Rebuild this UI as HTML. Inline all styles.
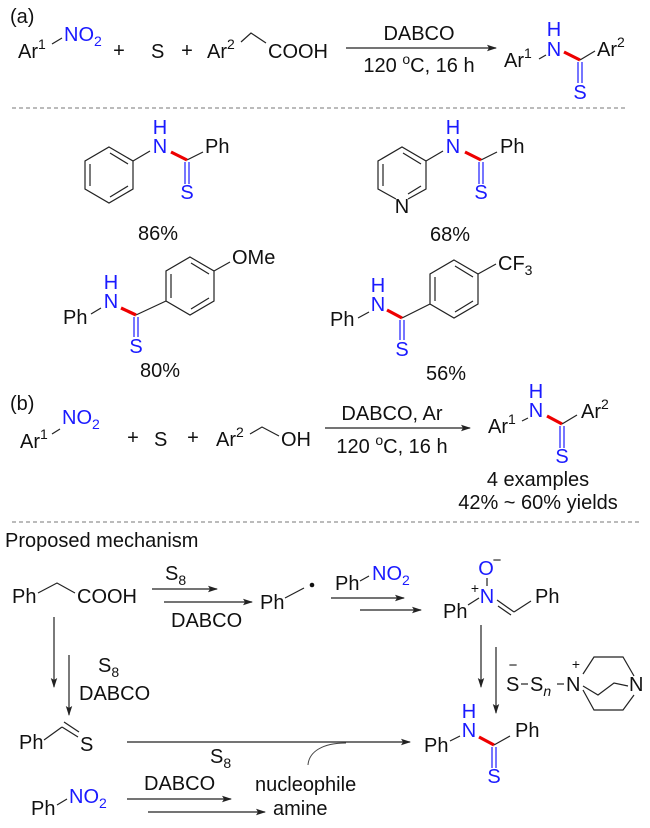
<!DOCTYPE html>
<html><head><meta charset="utf-8"><style>
html,body{margin:0;padding:0;background:#fff;}
svg{display:block;font-family:"Liberation Sans",Arial,sans-serif;}
</style></head><body>
<svg width="650" height="828" viewBox="0 0 650 828" xmlns="http://www.w3.org/2000/svg">
<defs>
<marker id="ah" markerWidth="10" markerHeight="8" refX="9" refY="4" orient="auto" markerUnits="userSpaceOnUse">
<path d="M0,0.8 L10,4 L0,7.2 L2,4 Z" fill="#222"/>
</marker>
</defs>
<g font-size="20" fill="#111">
<!-- (a) -->
<text x="10" y="23">(a)</text>
<text x="18" y="58">Ar<tspan font-size="14" dy="-9">1</tspan></text>
<line x1="52" y1="44" x2="62" y2="38" stroke="#222" stroke-width="1.2"/>
<text x="64" y="41" fill="#1a1aff">NO<tspan font-size="14" dy="5">2</tspan></text>
<text x="119" y="57" text-anchor="middle">+</text>
<text x="151" y="58">S</text>
<text x="187" y="57" text-anchor="middle">+</text>
<text x="207" y="58">Ar<tspan font-size="14" dy="-9">2</tspan></text>
<polyline points="241,42 251,33 266,43" fill="none" stroke="#222" stroke-width="1.2"/>
<text x="268" y="58">COOH</text>
<line x1="346" y1="48" x2="496" y2="48" stroke="#222" stroke-width="1.2" marker-end="url(#ah)"/>
<text x="419" y="40" text-anchor="middle">DABCO</text>
<text x="419" y="72" text-anchor="middle">120 <tspan font-size="14" dy="-8">o</tspan><tspan dy="8">C, 16 h</tspan></text>
<text x="504" y="67">Ar<tspan font-size="14" dy="-9">1</tspan></text>
<line x1="539" y1="59" x2="546" y2="55" stroke="#222" stroke-width="1.2"/>
<text x="554" y="56" text-anchor="middle" fill="#1a1aff">N</text>
<text x="554" y="36" text-anchor="middle" fill="#1a1aff">H</text>
<line x1="564" y1="52" x2="580" y2="60" stroke="#e00" stroke-width="3.2"/>
<line x1="580" y1="60" x2="595" y2="51" stroke="#222" stroke-width="1.2"/>
<text x="597" y="56">Ar<tspan font-size="14" dy="-9">2</tspan></text>
<line x1="578" y1="62" x2="578" y2="83" stroke="#1a1aff" stroke-width="1.2"/>
<line x1="582" y1="62" x2="582" y2="83" stroke="#1a1aff" stroke-width="1.2"/>
<text x="580" y="99" text-anchor="middle" fill="#1a1aff">S</text>
<line x1="12" y1="108" x2="627" y2="108" stroke="#777" stroke-width="1" stroke-dasharray="4,3"/>

<!-- Structure 1 -->
<g stroke="#222" stroke-width="1.2" fill="none">
<polygon points="109,147 133,161 133,189 109,203 85,189 85,161"/>
<line x1="90" y1="164" x2="90" y2="186"/>
<line x1="110" y1="153" x2="128" y2="164"/>
<line x1="128" y1="186" x2="110" y2="197"/>
<line x1="133" y1="161" x2="150" y2="151"/>
<line x1="187" y1="160" x2="203" y2="152"/>
</g>
<text x="160" y="153" text-anchor="middle" fill="#1a1aff">N</text>
<text x="160" y="134" text-anchor="middle" fill="#1a1aff">H</text>
<line x1="171" y1="152" x2="187" y2="160" stroke="#e00" stroke-width="3.2"/>
<text x="205" y="153">Ph</text>
<line x1="185" y1="162" x2="185" y2="184" stroke="#1a1aff" stroke-width="1.2"/>
<line x1="189" y1="162" x2="189" y2="184" stroke="#1a1aff" stroke-width="1.2"/>
<text x="187" y="199" text-anchor="middle" fill="#1a1aff">S</text>
<text x="158" y="240" text-anchor="middle">86%</text>

<!-- Structure 2 pyridine -->
<g stroke="#222" stroke-width="1.2" fill="none">
<polyline points="396,199 378,189 378,161 402,147 426,161 426,189 408,199"/>
<line x1="383" y1="164" x2="383" y2="186"/>
<line x1="403" y1="153" x2="421" y2="164"/>
<line x1="421" y1="186" x2="408" y2="194"/>
<line x1="426" y1="161" x2="443" y2="151"/>
<line x1="481" y1="160" x2="497" y2="152"/>
</g>
<text x="402" y="213" text-anchor="middle">N</text>
<text x="453" y="153" text-anchor="middle" fill="#1a1aff">N</text>
<text x="453" y="134" text-anchor="middle" fill="#1a1aff">H</text>
<line x1="465" y1="152" x2="481" y2="160" stroke="#e00" stroke-width="3.2"/>
<text x="500" y="153">Ph</text>
<line x1="479" y1="162" x2="479" y2="184" stroke="#1a1aff" stroke-width="1.2"/>
<line x1="483" y1="162" x2="483" y2="184" stroke="#1a1aff" stroke-width="1.2"/>
<text x="481" y="199" text-anchor="middle" fill="#1a1aff">S</text>
<text x="450" y="241" text-anchor="middle">68%</text>

<!-- Structure 3 OMe -->
<g stroke="#222" stroke-width="1.2" fill="none">
<polygon points="190,257 214,271 214,301 190,315 166,301 166,271"/>
<line x1="171" y1="274" x2="171" y2="298"/>
<line x1="191" y1="263" x2="209" y2="274"/>
<line x1="209" y1="298" x2="191" y2="309"/>
<line x1="214" y1="271" x2="230" y2="262"/>
<line x1="136" y1="315" x2="166" y2="301"/>
<line x1="91" y1="314" x2="101" y2="308"/>
</g>
<text x="232" y="264">OMe</text>
<text x="63" y="324">Ph</text>
<text x="111" y="308" text-anchor="middle" fill="#1a1aff">N</text>
<text x="111" y="289" text-anchor="middle" fill="#1a1aff">H</text>
<line x1="121" y1="308" x2="136" y2="315" stroke="#e00" stroke-width="3.2"/>
<line x1="134" y1="317" x2="134" y2="337" stroke="#1a1aff" stroke-width="1.2"/>
<line x1="138" y1="317" x2="138" y2="337" stroke="#1a1aff" stroke-width="1.2"/>
<text x="136" y="353" text-anchor="middle" fill="#1a1aff">S</text>
<text x="160" y="377" text-anchor="middle">80%</text>

<!-- Structure 4 CF3 -->
<g stroke="#222" stroke-width="1.2" fill="none">
<polygon points="454,260 478,274 478,304 454,318 430,304 430,274"/>
<line x1="435" y1="277" x2="435" y2="301"/>
<line x1="455" y1="266" x2="473" y2="277"/>
<line x1="473" y1="301" x2="455" y2="312"/>
<line x1="478" y1="274" x2="496" y2="264"/>
<line x1="402" y1="318" x2="430" y2="304"/>
<line x1="358" y1="318" x2="369" y2="312"/>
</g>
<text x="498" y="270">CF<tspan font-size="14" dy="5">3</tspan></text>
<text x="330" y="326">Ph</text>
<text x="378" y="311" text-anchor="middle" fill="#1a1aff">N</text>
<text x="378" y="292" text-anchor="middle" fill="#1a1aff">H</text>
<line x1="387" y1="310" x2="402" y2="318" stroke="#e00" stroke-width="3.2"/>
<line x1="400" y1="320" x2="400" y2="340" stroke="#1a1aff" stroke-width="1.2"/>
<line x1="404" y1="320" x2="404" y2="340" stroke="#1a1aff" stroke-width="1.2"/>
<text x="402" y="356" text-anchor="middle" fill="#1a1aff">S</text>
<text x="446" y="380" text-anchor="middle">56%</text>

<!-- (b) -->
<text x="10" y="410">(b)</text>
<text x="20" y="448">Ar<tspan font-size="14" dy="-9">1</tspan></text>
<line x1="52" y1="434" x2="60" y2="429" stroke="#222" stroke-width="1.2"/>
<text x="62" y="424" fill="#1a1aff">NO<tspan font-size="14" dy="5">2</tspan></text>
<text x="133" y="444" text-anchor="middle">+</text>
<text x="154" y="446">S</text>
<text x="193" y="444" text-anchor="middle">+</text>
<text x="216" y="446">Ar<tspan font-size="14" dy="-9">2</tspan></text>
<polyline points="250,434 262,427 279,436" fill="none" stroke="#222" stroke-width="1.2"/>
<text x="281" y="446">OH</text>
<line x1="325" y1="428" x2="470" y2="428" stroke="#222" stroke-width="1.2" marker-end="url(#ah)"/>
<text x="392" y="420" text-anchor="middle">DABCO, Ar</text>
<text x="392" y="453" text-anchor="middle">120 <tspan font-size="14" dy="-8">o</tspan><tspan dy="8">C, 16 h</tspan></text>
<text x="488" y="433">Ar<tspan font-size="14" dy="-9">1</tspan></text>
<line x1="522" y1="421" x2="528" y2="418" stroke="#222" stroke-width="1.2"/>
<text x="536" y="417" text-anchor="middle" fill="#1a1aff">N</text>
<text x="536" y="398" text-anchor="middle" fill="#1a1aff">H</text>
<line x1="547" y1="416" x2="562" y2="424" stroke="#e00" stroke-width="3.2"/>
<line x1="562" y1="424" x2="577" y2="415" stroke="#222" stroke-width="1.2"/>
<text x="581" y="418">Ar<tspan font-size="14" dy="-9">2</tspan></text>
<line x1="560" y1="426" x2="560" y2="448" stroke="#1a1aff" stroke-width="1.2"/>
<line x1="564" y1="426" x2="564" y2="448" stroke="#1a1aff" stroke-width="1.2"/>
<text x="562" y="463" text-anchor="middle" fill="#1a1aff">S</text>
<text x="538" y="486" text-anchor="middle">4 examples</text>
<text x="538" y="509" text-anchor="middle">42% ~ 60% yields</text>
<line x1="12" y1="522" x2="640" y2="522" stroke="#777" stroke-width="1" stroke-dasharray="4,3"/>

<!-- Mechanism -->
<text x="5" y="547">Proposed mechanism</text>
<text x="12" y="603">Ph</text>
<polyline points="38,593 57,583 75,593" fill="none" stroke="#222" stroke-width="1.2"/>
<text x="77" y="603">COOH</text>
<g stroke="#222" stroke-width="1.2" marker-end="url(#ah)">
<line x1="152" y1="589" x2="217" y2="589"/>
<line x1="164" y1="602" x2="252" y2="602"/>
<line x1="331" y1="598" x2="404" y2="598"/>
<line x1="360" y1="610" x2="421" y2="610"/>
<line x1="481" y1="625" x2="481" y2="687"/>
<line x1="496" y1="647" x2="496" y2="713"/>
<line x1="54" y1="617" x2="54" y2="687"/>
<line x1="69" y1="655" x2="69" y2="715"/>
<line x1="127" y1="742" x2="410" y2="742"/>
<line x1="127" y1="799" x2="231" y2="799"/>
<line x1="148" y1="812" x2="265" y2="812"/>
</g>
<text x="165" y="580">S<tspan font-size="14" dy="5">8</tspan></text>
<text x="171" y="627">DABCO</text>
<text x="260" y="609">Ph</text>
<line x1="285" y1="598" x2="304" y2="588" stroke="#222" stroke-width="1.2"/>
<circle cx="312" cy="585" r="2.3" fill="#111"/>
<text x="335" y="590">Ph</text>
<line x1="360" y1="581" x2="369" y2="576" stroke="#222" stroke-width="1.2"/>
<text x="372" y="580" fill="#1a1aff">NO<tspan font-size="14" dy="5">2</tspan></text>
<!-- nitrone -->
<text x="443" y="618">Ph</text>
<line x1="468" y1="605" x2="479" y2="598" stroke="#222" stroke-width="1.2"/>
<text x="487" y="603" text-anchor="middle" fill="#1a1aff">N</text>
<text x="475" y="593" text-anchor="middle" font-size="14">+</text>
<text x="486" y="575" text-anchor="middle" fill="#1a1aff">O</text>
<text x="497" y="565" text-anchor="middle" font-size="15">−</text>
<line x1="487" y1="578" x2="487" y2="586" stroke="#222" stroke-width="1.2"/>
<line x1="497" y1="600" x2="514" y2="612" stroke="#222" stroke-width="1.2"/>
<line x1="498" y1="606" x2="511" y2="615" stroke="#222" stroke-width="1.2"/>
<line x1="514" y1="612" x2="531" y2="601" stroke="#222" stroke-width="1.2"/>
<text x="535" y="603">Ph</text>
<!-- polysulfide DABCO -->
<text x="513" y="670" text-anchor="middle" font-size="15">−</text>
<text x="506" y="691">S</text>
<line x1="521" y1="684" x2="528" y2="684" stroke="#222" stroke-width="1.2"/>
<text x="530" y="691">S<tspan font-size="14" font-style="italic" dy="5">n</tspan></text>
<line x1="557" y1="684" x2="564" y2="684" stroke="#222" stroke-width="1.2"/>
<text x="566" y="691">N</text>
<text x="576" y="669" text-anchor="middle" font-size="14">+</text>
<g stroke="#222" stroke-width="1.2" fill="none">
<polyline points="583,674 594,657 623,657 634,676"/>
<polyline points="583,690 594,710 623,710 634,695"/>
<polyline points="583,686 598,695 614,683 628,686"/>
</g>
<text x="629" y="691">N</text>
<text x="98" y="672">S<tspan font-size="14" dy="5">8</tspan></text>
<text x="79" y="700">DABCO</text>
<text x="19" y="749">Ph</text>
<line x1="44" y1="740" x2="62" y2="727" stroke="#222" stroke-width="1.2"/>
<line x1="62" y1="727" x2="78" y2="737" stroke="#222" stroke-width="1.2"/>
<line x1="64" y1="722" x2="79" y2="732" stroke="#222" stroke-width="1.2"/>
<text x="80" y="751">S</text>
<text x="210" y="763">S<tspan font-size="14" dy="5">8</tspan></text>
<path d="M308,765 C309,752 322,743 346,743" fill="none" stroke="#444" stroke-width="1"/>
<text x="31" y="815">Ph</text>
<line x1="57" y1="805" x2="67" y2="799" stroke="#222" stroke-width="1.2"/>
<text x="69" y="803" fill="#1a1aff">NO<tspan font-size="14" dy="5">2</tspan></text>
<text x="144" y="790">DABCO</text>
<text x="255" y="791">nucleophile</text>
<text x="273" y="815">amine</text>
<!-- final product -->
<text x="424" y="752">Ph</text>
<line x1="450" y1="741" x2="460" y2="736" stroke="#222" stroke-width="1.2"/>
<text x="469" y="737" text-anchor="middle" fill="#1a1aff">N</text>
<text x="469" y="718" text-anchor="middle" fill="#1a1aff">H</text>
<line x1="479" y1="737" x2="494" y2="745" stroke="#e00" stroke-width="3.2"/>
<line x1="494" y1="745" x2="510" y2="736" stroke="#222" stroke-width="1.2"/>
<text x="515" y="737">Ph</text>
<line x1="492" y1="747" x2="492" y2="768" stroke="#1a1aff" stroke-width="1.2"/>
<line x1="496" y1="747" x2="496" y2="768" stroke="#1a1aff" stroke-width="1.2"/>
<text x="494" y="783" text-anchor="middle" fill="#1a1aff">S</text>
</g>
</svg>
</body></html>
